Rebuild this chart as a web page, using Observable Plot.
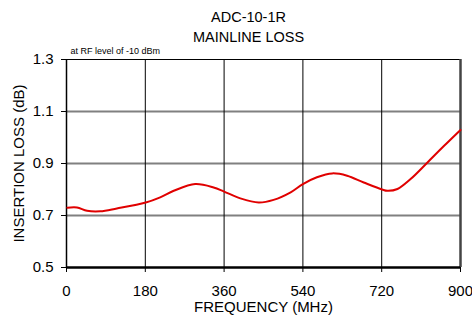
<!DOCTYPE html>
<html>
<head>
<meta charset="utf-8">
<script src="https://cdn.jsdelivr.net/npm/d3@7"></script>
<script src="https://cdn.jsdelivr.net/npm/@observablehq/plot@0.6"></script>
<style>
  html, body { margin: 0; padding: 0; background: #fff; }
</style>
</head>
<body>
<div id="chart"></div>
<script>
const freq = [2, 24, 47, 77, 115, 181, 214, 245, 294, 336, 360, 397, 439, 473, 512, 540, 572, 607, 641, 679, 721, 733, 756, 786, 824, 862, 900];
const loss = [0.730, 0.731, 0.718, 0.716, 0.727, 0.750, 0.770, 0.795, 0.821, 0.808, 0.792, 0.766, 0.750, 0.760, 0.789, 0.821, 0.847, 0.862, 0.853, 0.827, 0.800, 0.795, 0.802, 0.840, 0.903, 0.967, 1.029];
const xTicks = [0, 180, 360, 540, 720, 900];
const yTicks = [0.5, 0.7, 0.9, 1.1, 1.3];
const titleLines = ["ADC-10-1R", "MAINLINE LOSS"];
const note = "at RF level of -10 dBm";
const xLabel = "FREQUENCY (MHz)";
const yLabel = "INSERTION LOSS (dB)";

const data = freq.map((f, i) => ({f, v: loss[i]}));
const font = "'Liberation Sans', Arial, sans-serif";

const chart = Plot.plot({
  width: 472,
  height: 315,
  marginLeft: 66,
  marginRight: 12,
  marginTop: 59,
  marginBottom: 48,
  style: {fontFamily: font, background: "#fff", color: "#000"},
  x: {domain: [0, 900]},
  y: {domain: [0.5, 1.3]},
  marks: [
    Plot.ruleY(yTicks.filter(d => d > 0.5 && d < 1.3), {stroke: "#808080", strokeWidth: 2}),
    Plot.ruleX(xTicks.filter(d => d > 0 && d < 900), {stroke: "#000", strokeWidth: 1}),
    Plot.ruleY([1.3], {stroke: "#000", strokeWidth: 1}),
    Plot.ruleX([0], {stroke: "#000", strokeWidth: 1.5}),
    Plot.ruleX([900], {stroke: "#444", strokeWidth: 2.5}),
    Plot.ruleY([0.5], {stroke: "#000", strokeWidth: 2.5}),
    Plot.line(data, {x: "f", y: "v", stroke: "#e00000", strokeWidth: 2, curve: "catmull-rom"}),
    Plot.axisX({ticks: xTicks, tickSize: 5, tickPadding: 13, fontSize: 15, label: null, tickFormat: d => String(d)}),
    Plot.axisY({ticks: yTicks, tickSize: 5, tickPadding: 8, fontSize: 15, label: null, tickFormat: d3.format(".1f")}),
    Plot.text([xLabel], {frameAnchor: "bottom", lineAnchor: "middle", textAnchor: "middle", dy: 40, fontSize: 15, text: d => d, fill: "#000"}),
    Plot.text([yLabel], {frameAnchor: "left", lineAnchor: "middle", textAnchor: "middle", dx: -47, rotate: -90, fontSize: 15, text: d => d, fill: "#000"}),
    Plot.text([titleLines[0]], {frameAnchor: "top", lineAnchor: "middle", dx: -15, dy: -42.5, fontSize: 14.5, text: d => d, fill: "#000"}),
    Plot.text([titleLines[1]], {frameAnchor: "top", lineAnchor: "middle", dx: -15, dy: -22.5, fontSize: 14.5, text: d => d, fill: "#000"}),
    Plot.text([note], {frameAnchor: "top-left", lineAnchor: "middle", dx: 4, dy: -8, fontSize: 9, textAnchor: "start", text: d => d, fill: "#000"})
  ]
});
document.getElementById("chart").appendChild(chart);
</script>
</body>
</html>
